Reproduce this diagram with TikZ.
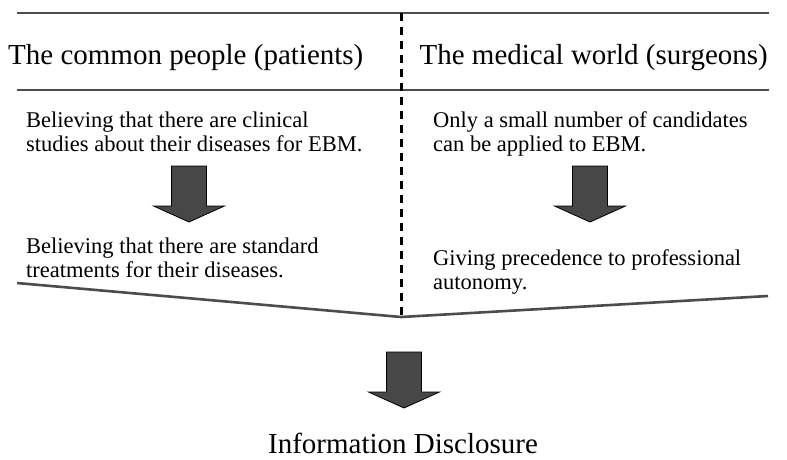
\documentclass[tikz,border=0pt]{standalone}
\usepackage{fontspec}
\setmainfont{Liberation Serif}
\begin{document}
\begin{tikzpicture}[x=1pt,y=-1pt,
  rule/.style={line width=2.6pt, draw=black!70},
  divider/.style={line width=3pt, dash pattern=on 8pt off 6pt},
  bigarrow/.style={fill=black!72, draw=black, line width=0.8pt, line join=miter},
  headtext/.style={font=\fontsize{29}{34}\selectfont, inner sep=0},
  bodytext/.style={font=\fontsize{22.5}{24}\selectfont, inner sep=0, align=left, anchor=base west},
  fatarrow/.pic={\draw[bigarrow] (-17.5,0) -- (17.5,0) -- (17.5,40) -- (35.5,40) -- (0,56) -- (-35.5,40) -- (-17.5,40) -- cycle;}]
\useasboundingbox (0,0) rectangle (787,459);
\fill[white] (0,0) rectangle (787,459);

% frame coordinates
\coordinate (tl) at (17,13);
\coordinate (tr) at (769,13);
\coordinate (ml) at (17,90);
\coordinate (mr) at (769,90);
\coordinate (bl) at (17,283);
\coordinate (br) at (768,296);
\coordinate (top) at (401,13);
\coordinate (apex) at (401,317);

\draw[rule] (tl) -- (tr);
\draw[rule] (ml) -- (mr);
\draw[rule] (bl) -- (apex) -- (br);
\draw[divider] (top) -- (apex);

% headers
\node[headtext, anchor=base west] (hl) at (8,64) {The common people (patients)};
\node[headtext, anchor=base east] (hr) at (768,64) {The medical world (surgeons)};

% body texts (anchor = baseline of last line)
\node[bodytext] (l1) at (26,151) {Believing that there are clinical\\studies about their diseases for EBM.};
\node[bodytext] (l2) at (26,277) {Believing that there are standard\\treatments for their diseases.};
\node[bodytext] (r1) at (433,151) {Only a small number of candidates\\can be applied to EBM.};
\node[bodytext] (r2) at (433,289) {Giving precedence to professional\\autonomy.};

% arrows
\pic at (189,166) {fatarrow};
\pic at (590,166) {fatarrow};
\pic at (404,352) {fatarrow};

\node[headtext, anchor=base] (info) at (403,453) {Information Disclosure};
\end{tikzpicture}
\end{document}
